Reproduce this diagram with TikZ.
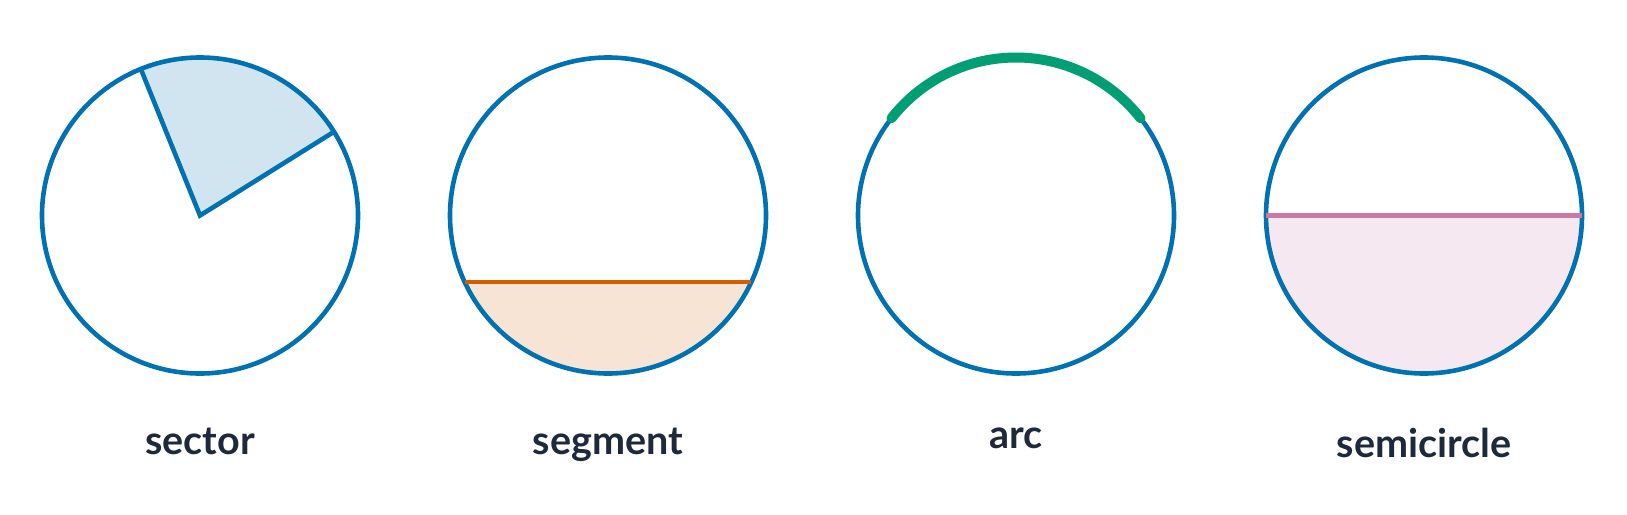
\documentclass[tikz,border=0pt]{standalone}
\usepackage{fontspec}
\setmainfont{Lato}
\usepackage{tikz}
\definecolor{cblue}{HTML}{0072B2}
\definecolor{corange}{HTML}{D55E00}
\definecolor{cgreen}{HTML}{009E73}
\definecolor{cpink}{HTML}{CC79A7}
\definecolor{ctext}{HTML}{1E293B}
\begin{document}
\begin{tikzpicture}[x=1pt,y=1pt,yscale=-1,
  rim/.style={draw=cblue,line width=4.6},
  label/.style={anchor=north,inner sep=0,text=ctext,font=\fontsize{39.5}{46}\bfseries\selectfont}]
\useasboundingbox (0,0) rectangle (1627,514); %picture size in pixels

\coordinate (c1) at (200,215.5);
\coordinate (c2) at (608,215.5);
\coordinate (c3) at (1016,215.5);
\coordinate (c4) at (1424,215.5);

%Shape: Sector
\fill [cblue!18] (c1) -- ++(32:158 and -158) arc [start angle=-32,end angle=-112,radius=158] -- cycle;
\draw [rim] (c1) circle [radius=158];
\draw [rim,line join=miter] (c1) ++(-112:158) -- (c1) -- ++(-32:158);

%Shape: Segment
\fill [corange!17] (c2) ++(-205:158) arc [start angle=-205,end angle=-335,radius=158] -- cycle;
\draw [rim] (c2) circle [radius=158];
\draw [corange,line width=4.4] (c2) ++(-205:158) -- ++(286.4,0);

%Shape: Arc
\draw [rim] (c3) circle [radius=158];
\draw [cgreen,line width=10,line cap=round] (c3) ++(-38:158) arc [start angle=-38,end angle=-142,radius=158];

%Shape: Semicircle
\fill [cpink!17] (c4) ++(180:158) arc [start angle=180,end angle=0,radius=158] -- cycle;
\draw [rim] (c4) circle [radius=158];
\draw [cpink,line width=4.4] (c4) ++(180:158) -- ++(316,0);

% Text Node
\node [label] (sector) at (200,428) {sector};
% Text Node
\node [label] (segment) at (608,428) {segment};
% Text Node
\node [label] (arc) at (1016,428) {arc};
% Text Node
\node [label] (semicircle) at (1424,428) {semicircle};

\end{tikzpicture}
\end{document}
